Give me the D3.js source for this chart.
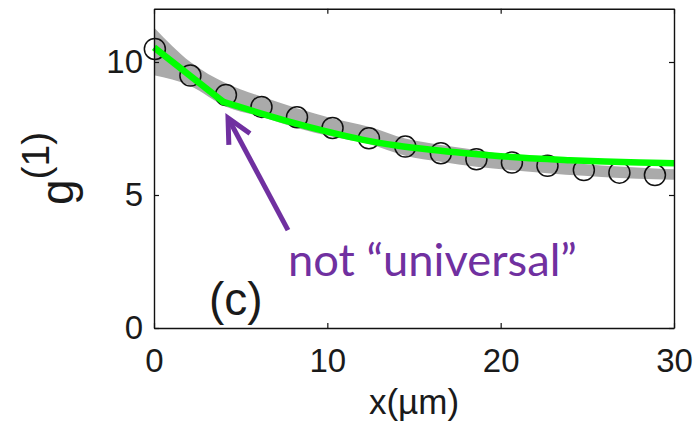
<!DOCTYPE html>
<html>
<head>
<meta charset="utf-8">
<script src="https://cdn.jsdelivr.net/npm/d3@7"></script>
<style>
  html, body { margin: 0; padding: 0; background: #fff; }
  svg { display: block; }
</style>
</head>
<body>
<svg id="chart" width="697" height="424"></svg>
<script>
// Measured correlation g(1) vs. distance
const pointX = [0.05, 2.1, 4.15, 6.2, 8.25, 10.3, 12.4, 14.5, 16.55, 18.6, 20.65, 22.7, 24.8, 26.85, 28.9];
const pointY = [10.49, 9.49, 8.76, 8.31, 7.92, 7.52, 7.13, 6.82, 6.57, 6.34, 6.22, 6.10, 5.94, 5.84, 5.75];

// Uncertainty band around the measurement
const bandX     = [0, 2.1, 4.15, 6.2, 8.25, 10.3, 12.4, 14.5, 16.55, 18.6, 20.65, 22.7, 24.8, 26.85, 28.9, 30];
const bandUpper = [11.3, 10.0, 9.2, 8.7, 8.26, 7.88, 7.57, 7.12, 6.88, 6.69, 6.47, 6.30, 6.17, 6.07, 6.00, 5.97];
const bandLower = [9.5, 9.1, 8.32, 7.94, 7.52, 7.19, 6.92, 6.48, 6.25, 6.06, 5.93, 5.82, 5.72, 5.64, 5.59, 5.57];

// Model curve: straight segment up to x = 4, smooth afterwards
const fitX = [0, 4, 6, 8, 10, 12, 14, 16, 18, 20, 22, 24, 26, 28, 30];
const fitY = [10.55, 8.5, 8.1, 7.72, 7.38, 7.08, 6.86, 6.7, 6.57, 6.46, 6.37, 6.31, 6.26, 6.22, 6.19];

const xTicks = [0, 10, 20, 30];
const yTicks = [0, 5, 10];

// Annotation arrow (data coordinates): tail -> tip
const arrowTail = [7.73, 3.68];
const arrowTip = [4.27, 7.9];

const svg = d3.select("#chart");
const x = d3.scaleLinear().domain([0, 30]).range([154, 674]);
const y = d3.scaleLinear().domain([0, 12]).range([328, 8.8]);

const axisFont = "'Liberation Sans', Arial, Helvetica, sans-serif";
const purple = "#7030a0";

// band
const band = bandX.map((v, i) => ({ x: v, lo: bandLower[i], hi: bandUpper[i] }));
svg.append("path")
  .datum(band)
  .attr("fill", "#aaaaaa")
  .attr("d", d3.area()
    .x(d => x(d.x))
    .y0(d => y(d.lo))
    .y1(d => y(d.hi))
    .curve(d3.curveMonotoneX));

// measured points
svg.append("g")
  .selectAll("circle")
  .data(pointX.map((v, i) => ({ x: v, y: pointY[i] })))
  .join("circle")
  .attr("cx", d => x(d.x))
  .attr("cy", d => y(d.y))
  .attr("r", 10.5)
  .attr("fill", "none")
  .attr("stroke", "#111")
  .attr("stroke-width", 1.5);

// fit curve
const fit = fitX.map((v, i) => ({ x: v, y: fitY[i] }));
svg.append("path")
  .datum(fit.slice(0, 2))
  .attr("fill", "none")
  .attr("stroke", "#00ff00")
  .attr("stroke-width", 6.5)
  .attr("d", d3.line().x(d => x(d.x)).y(d => y(d.y)).curve(d3.curveLinear));
svg.append("path")
  .datum(fit.slice(1))
  .attr("fill", "none")
  .attr("stroke", "#00ff00")
  .attr("stroke-width", 6.5)
  .attr("d", d3.line().x(d => x(d.x)).y(d => y(d.y)).curve(d3.curveMonotoneX));

// joint at the kink
svg.append("circle")
  .attr("cx", x(fitX[1])).attr("cy", y(fitY[1]))
  .attr("r", 3.25).attr("fill", "#00ff00");

// axes (box with inward ticks)
function styleAxis(g, showText) {
  g.selectAll(".domain").attr("stroke", "#111").attr("stroke-width", 1.4);
  g.selectAll(".tick line").attr("stroke", "#111").attr("stroke-width", 1.2);
  g.selectAll("text")
    .attr("font-family", axisFont)
    .attr("font-size", 33)
    .attr("fill", "#1a1a1a");
  if (!showText) g.selectAll("text").remove();
}

svg.append("g")
  .attr("transform", `translate(0,${y(0)})`)
  .call(d3.axisBottom(x).tickValues(xTicks).tickSize(-5).tickSizeOuter(0).tickPadding(21).tickFormat(d3.format("d")))
  .call(g => styleAxis(g, true));
svg.append("g")
  .attr("transform", `translate(0,${y(12)})`)
  .call(d3.axisTop(x).tickValues(xTicks).tickSize(-5).tickSizeOuter(0))
  .call(g => styleAxis(g, false));
svg.append("g")
  .attr("transform", `translate(${x(0)},0)`)
  .call(d3.axisLeft(y).tickValues(yTicks).tickSize(-5).tickSizeOuter(0).tickPadding(11).tickFormat(d3.format("d")))
  .call(g => styleAxis(g, true));
svg.append("g")
  .attr("transform", `translate(${x(30)},0)`)
  .call(d3.axisRight(y).tickValues(yTicks).tickSize(-5).tickSizeOuter(0))
  .call(g => styleAxis(g, false));

// axis titles
svg.append("text")
  .attr("x", (x(0) + x(30)) / 2)
  .attr("y", 414)
  .attr("text-anchor", "middle")
  .attr("font-family", axisFont)
  .attr("font-size", 35)
  .attr("fill", "#1a1a1a")
  .text("x(\u00b5m)");

const yTitle = svg.append("text")
  .attr("transform", "translate(73,205) rotate(-90)")
  .attr("font-family", axisFont)
  .attr("fill", "#1a1a1a");
yTitle.append("tspan").attr("font-size", 46).text("g");
yTitle.append("tspan").attr("font-size", 39).attr("dy", -24).text("(1)");

// panel label
svg.append("text")
  .attr("x", 209)
  .attr("y", 315)
  .attr("font-family", axisFont)
  .attr("font-size", 46)
  .attr("fill", "#1a1a1a")
  .text("(c)");

// annotation arrow
const tx = x(arrowTail[0]), ty = y(arrowTail[1]);
const hx = x(arrowTip[0]), hy = y(arrowTip[1]);
const ang = Math.atan2(ty - hy, tx - hx);
const headLen = 27, spread = 0.46;
svg.append("line")
  .attr("x1", tx).attr("y1", ty).attr("x2", hx).attr("y2", hy)
  .attr("stroke", purple).attr("stroke-width", 5);
svg.append("path")
  .attr("d", `M${hx + headLen * Math.cos(ang - spread)},${hy + headLen * Math.sin(ang - spread)}`
    + `L${hx},${hy}`
    + `L${hx + headLen * Math.cos(ang + spread)},${hy + headLen * Math.sin(ang + spread)}`)
  .attr("fill", "none")
  .attr("stroke", purple)
  .attr("stroke-width", 5)
  .attr("stroke-linejoin", "miter");

const note = svg.append("text")
  .attr("x", 288)
  .attr("y", 276)
  .attr("font-family", "Lato, 'Open Sans', sans-serif")
  .attr("font-size", 40)
  .attr("fill", purple)
  .text("not \u201cuniversal\u201d");
const w = note.node().getComputedTextLength();
note.attr("font-size", 40 * 289 / w);
</script>
</body>
</html>
